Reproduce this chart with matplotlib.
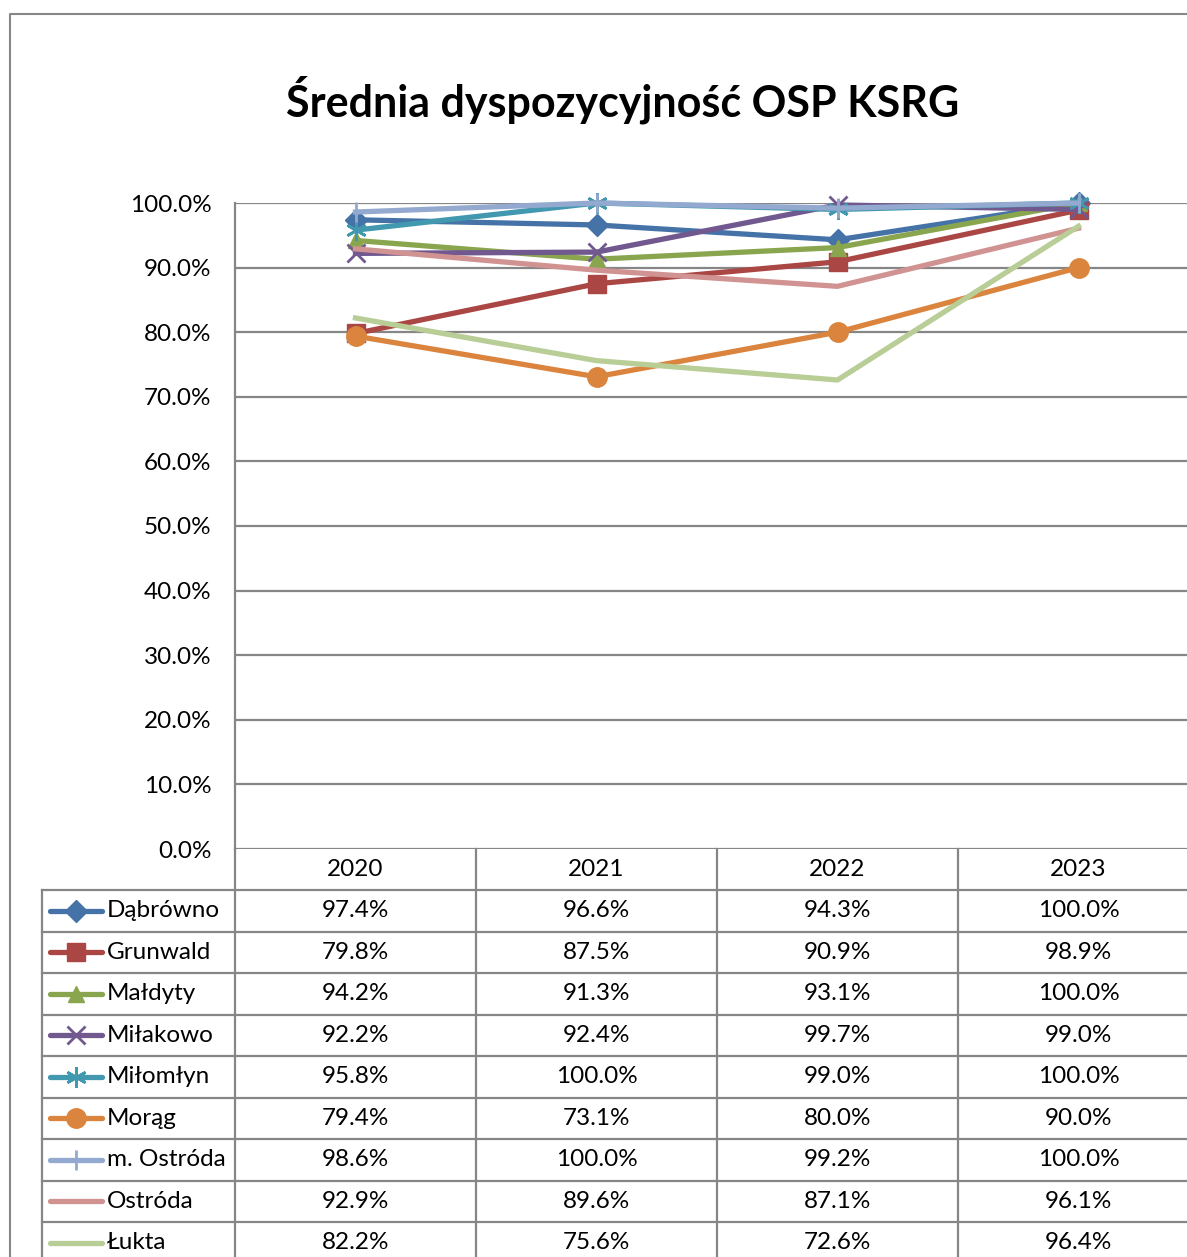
import numpy as np
import matplotlib
matplotlib.use("Agg")
from matplotlib import pyplot as plt
from matplotlib.lines import Line2D
from matplotlib.transforms import blended_transform_factory

plt.rcParams['font.family'] = ['Lato', 'DejaVu Sans']

years = ['2020', '2021', '2022', '2023']
names = ['Dąbrówno', 'Grunwald', 'Małdyty', 'Miłakowo', 'Miłomłyn',
         'Morąg', 'm. Ostróda', 'Ostróda', 'Łukta']

dabrowno = [97.4, 96.6, 94.3, 100.0]
grunwald = [79.8, 87.5, 90.9, 98.9]
maldyty = [94.2, 91.3, 93.1, 100.0]
milakowo = [92.2, 92.4, 99.7, 99.0]
milomlyn = [95.8, 100.0, 99.0, 100.0]
morag = [79.4, 73.1, 80.0, 90.0]
m_ostroda = [98.6, 100.0, 99.2, 100.0]
ostroda = [92.9, 89.6, 87.1, 96.1]
lukta = [82.2, 75.6, 72.6, 96.4]

series = [dabrowno, grunwald, maldyty, milakowo, milomlyn,
          morag, m_ostroda, ostroda, lukta]

# style per series: colour, marker, marker size
styles = [('#4572A7', 'D', 11), ('#AA4643', 's', 13), ('#89A54E', '^', 12),
          ('#71588F', 'x', 13), ('#4198AF', (6, 2, 0), 15), ('#DB843D', 'o', 14),
          ('#93A9CF', '|', 15), ('#D19392', 'None', 0), ('#B9CD96', 'None', 0)]

W, H = 1187, 1257
fig = plt.figure(figsize=(W / 100, H / 100), dpi=100)

def fx(x):
    return x / W

def fy(y):
    return 1 - y / H

# plot area in pixels: left 235, top 203, bottom 849, category width 241
left, top, bottom, cw = 235, 203, 849, 241
ax = fig.add_axes([fx(left), fy(bottom), fx(4 * cw), (bottom - top) / H])

x = np.arange(len(years))
for vals, (c, m, ms) in zip(series, styles):
    mew = 2 if m in ('x', '|') or isinstance(m, tuple) else 1
    ax.plot(x, vals, color=c, lw=3.8, marker=m, ms=ms, mec=c, mfc=c,
            mew=mew, solid_capstyle='projecting', clip_on=False, zorder=3)

ax.set_xlim(-0.5, 3.5)
ax.set_ylim(0, 100)
ax.set_yticks(np.arange(0, 101, 10))
ax.set_yticklabels(['%.1f%%' % v for v in np.arange(0, 101, 10)])
ax.set_xticks([])
ax.tick_params(axis='y', length=0, pad=17, labelsize=17.5)
ax.grid(axis='y', color='#868686', lw=1.6, zorder=0)
for s in ['top', 'right', 'bottom']:
    ax.spines[s].set_visible(False)
ax.spines['left'].set_color('#868686')
ax.spines['left'].set_linewidth(1.6)

# title
fig.text(fx(623), fy(100), 'Średnia dyspozycyjność OSP KSRG', ha='center',
         va='center', fontsize=31, fontweight='bold')

# outer border
fig.add_artist(Line2D([fx(10), fx(10), 1.0], [0, fy(14), fy(14)],
                      color='#868686', lw=1.5, transform=fig.transFigure))

# data table
tr = blended_transform_factory(ax.transData, fig.transFigure)
gcol = '#868686'
fs = 17.5
row_h = 41.5
head_y = (bottom + 890) / 2
for i, yr in enumerate(years):
    fig.text(i, fy(head_y), yr, transform=tr, ha='center', va='center', fontsize=fs)

# vertical separators
fig.add_artist(Line2D([fx(left), fx(left)], [fy(bottom), 0], color=gcol, lw=1.6,
                      transform=fig.transFigure))
for xb in [0.5, 1.5, 2.5, 3.5]:
    fig.add_artist(Line2D([xb, xb], [fy(bottom), 0], color=gcol, lw=1.6, transform=tr))
fig.add_artist(Line2D([fx(42), fx(42)], [fy(890), 0], color=gcol, lw=1.6,
                      transform=fig.transFigure))

# horizontal separators
for r in range(len(names) + 1):
    yb = fy(890 + r * row_h)
    fig.add_artist(Line2D([fx(42), 1.0], [yb, yb], color=gcol, lw=1.6,
                          transform=fig.transFigure))

for r, (nm, vals, (c, m, ms)) in enumerate(zip(names, series, styles)):
    yc = fy(890 + (r + 0.5) * row_h)
    mew = 2 if m in ('x', '|') or isinstance(m, tuple) else 1
    fig.add_artist(Line2D([fx(50), fx(76), fx(102)], [yc, yc, yc], color=c, lw=3.8,
                          marker=m, ms=ms, mfc=c, mec=c, mew=mew, markevery=[1],
                          solid_capstyle='round', transform=fig.transFigure))
    fig.text(fx(107), yc, nm, ha='left', va='center', fontsize=fs)
    for i, v in enumerate(vals):
        fig.text(i, yc, '%.1f%%' % v, transform=tr, ha='center', va='center',
                 fontsize=fs)

fig.savefig('out.png', dpi=100)
